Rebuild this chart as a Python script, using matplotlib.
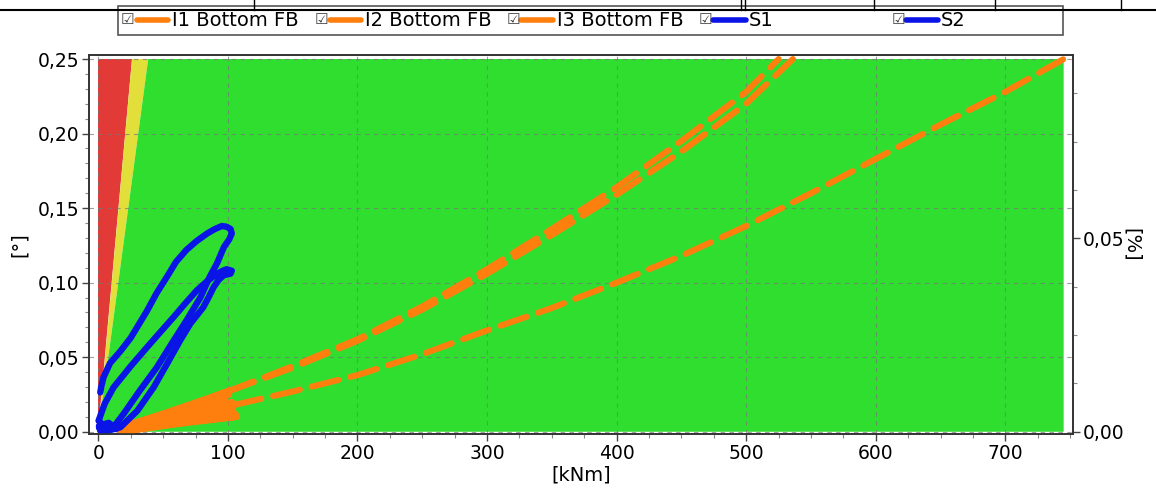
import matplotlib
matplotlib.use("Agg")
import matplotlib.pyplot as plt
from matplotlib.lines import Line2D
from matplotlib.patches import Rectangle
from matplotlib.ticker import MultipleLocator, FuncFormatter

# ---------------- data ----------------
# zone boundaries (kNm at top of chart, 0.25 deg)
zone_top = 0.25
zone_xmax = 745
red_edge_x = 26
yellow_edge_x = 38.5

# orange series: cyclic start part (solid band) and main dashed part
i1_cyc_x = [15, 100, 18, 104, 16, 101, 20, 105, 25, 98]
i1_cyc_y = [0.002, 0.027, 0.001, 0.013, 0.003, 0.025, 0.000, 0.011, 0.001, 0.021]
i1_x = [100, 150, 200, 250, 300, 350, 400, 450, 500, 525]
i1_y = [0.027, 0.044, 0.062, 0.084, 0.109, 0.136, 0.164, 0.195, 0.228, 0.25]

i2_cyc_x = [17, 102, 20, 106, 18, 103]
i2_cyc_y = [0.001, 0.028, 0.000, 0.012, 0.002, 0.020]
i2_x = [100, 150, 200, 250, 300, 350, 400, 450, 500, 536]
i2_y = [0.027, 0.043, 0.061, 0.082, 0.106, 0.132, 0.159, 0.188, 0.220, 0.25]

i3_cyc_x = [18, 105, 22, 107, 20, 104]
i3_cyc_y = [0.000, 0.019, 0.001, 0.010, 0.002, 0.016]
i3_x = [105, 150, 200, 250, 300, 350, 400, 450, 500, 550, 600, 650, 700, 745]
i3_y = [0.018, 0.027, 0.038, 0.052, 0.068, 0.083, 0.100, 0.118, 0.138, 0.160, 0.183, 0.206, 0.228, 0.25]

s1_x = [1.5, 2.5, 4, 9, 17, 25, 37.5, 45, 53, 60, 68, 76, 84, 90, 95.4, 99, 102, 103,
        101, 97, 91.6, 86, 78.7, 68, 58, 45, 32, 19.5, 11.6, 6, 1.5, 0.5, 8, 14, 3, 0.5]
s1_y = [0.0264, 0.031, 0.0365, 0.046, 0.054, 0.063, 0.081, 0.093, 0.104, 0.114, 0.122,
        0.128, 0.133, 0.136, 0.138, 0.1375, 0.136, 0.133, 0.129, 0.124, 0.113, 0.104,
        0.090, 0.0746, 0.061, 0.043, 0.0276, 0.012, 0.003, 0.001, 0.0007,
        0.004, 0.006, 0.002, 0.001, 0.003]

s2_x = [0.2, 5, 11.8, 25, 37.6, 48, 58, 67, 76, 84, 91.6, 96, 99, 103, 102, 96.8, 93,
        89, 85, 81, 76, 71, 63, 53, 42.7, 30, 17, 6.7, 0.5]
s2_y = [0.0074, 0.019, 0.0298, 0.044, 0.0567, 0.067, 0.0768, 0.086, 0.0948, 0.101, 0.106,
        0.108, 0.109, 0.108, 0.106, 0.105, 0.102, 0.097, 0.090, 0.0835, 0.078, 0.0725,
        0.061, 0.0455, 0.0298, 0.014, 0.003, 0.0007, 0.0074]

series_names = ["I1 Bottom FB", "I2 Bottom FB", "I3 Bottom FB", "S1", "S2"]

x_ticks = [0, 100, 200, 300, 400, 500, 600, 700]
y_ticks = [0.00, 0.05, 0.10, 0.15, 0.20, 0.25]
y2_ticks = [0.00, 0.05]

# ---------------- style ----------------
RED = "#e23a36"
YELLOW = "#e2df3a"
GREEN = "#30de30"
ORANGE = "#ff7f0e"
BLUE = "#0a14e6"
W, H = 1156, 493
DPI = 100

plt.rcParams["font.family"] = ["DejaVu Sans"]
fig = plt.figure(figsize=(W / DPI, H / DPI), dpi=DPI)

def px(x, y):
    return x / W, 1 - y / H

l, r, t, b = 89, 1073, 55, 434
ax = fig.add_axes([l / W, 1 - b / H, (r - l) / W, (b - t) / H])

ax.fill([0, 0, red_edge_x], [0, zone_top, zone_top], color=RED, lw=0, zorder=1)
ax.fill([0, red_edge_x, yellow_edge_x], [0, zone_top, zone_top], color=YELLOW, lw=0, zorder=1)
ax.fill([0, yellow_edge_x, zone_xmax, zone_xmax], [0, zone_top, zone_top, 0],
        color=GREEN, lw=0, zorder=1)

lw_or = 4.4
dash = (4.5, 2.0)
for cx, cy, mx, my in [(i1_cyc_x, i1_cyc_y, i1_x, i1_y),
                       (i2_cyc_x, i2_cyc_y, i2_x, i2_y),
                       (i3_cyc_x, i3_cyc_y, i3_x, i3_y)]:
    ax.plot(cx, cy, color=ORANGE, lw=lw_or, solid_capstyle="round", zorder=3)
    ax.plot(mx, my, color=ORANGE, lw=lw_or, dashes=dash, dash_capstyle="round", zorder=3)

ax.plot(s1_x, s1_y, color=BLUE, lw=4.6, solid_joinstyle="round", solid_capstyle="round", zorder=4)
ax.plot(s2_x, s2_y, color=BLUE, lw=4.6, solid_joinstyle="round", solid_capstyle="round", zorder=4)

ax.set_xlim(-7.2, 752.2)
ax.set_ylim(-0.0015, 0.2527)
ax.set_xticks(x_ticks)
ax.set_yticks(y_ticks)
ax.xaxis.set_minor_locator(MultipleLocator(25))
ax.yaxis.set_minor_locator(MultipleLocator(0.01))
ax.yaxis.set_major_formatter(FuncFormatter(lambda v, p: f"{v:.2f}".replace(".", ",")))
ax.grid(True, which="major", color="#777777", ls=(0, (4, 4)), lw=0.8, alpha=0.7, zorder=2)
ax.tick_params(which="major", length=5, width=1, color="#444444", labelsize=13.5, pad=2)
ax.tick_params(which="minor", length=3, width=0.8, color="#888888")
for s in ax.spines.values():
    s.set_color("#333333")
    s.set_linewidth(1.2)
ax.set_xlabel("[kNm]", fontsize=14, labelpad=2)
ax.set_ylabel("[°]", fontsize=14, labelpad=6)

ax2 = ax.twinx()
ratio = 0.3855
ax2.set_ylim(-0.0015 * ratio, 0.2527 * ratio)
ax2.set_yticks(y2_ticks)
ax2.yaxis.set_minor_locator(MultipleLocator(0.0125))
ax2.yaxis.set_major_formatter(FuncFormatter(lambda v, p: f"{v:.2f}".replace(".", ",")))
ax2.tick_params(which="major", length=5, width=1, color="#444444", labelsize=13.5, pad=2)
ax2.tick_params(which="minor", length=3, width=0.8, color="#888888")
ax2.set_ylabel("[%]", fontsize=14, rotation=270, labelpad=12)
for s in ax2.spines.values():
    s.set_color("#333333")
    s.set_linewidth(1.2)

# ---------------- legend box (custom, like the app) ----------------
lx0, ly0, lx1, ly1 = 118, 6, 1063, 35
fig.patches.append(Rectangle(px(lx0, ly1), (lx1 - lx0) / W, (ly1 - ly0) / H,
                             transform=fig.transFigure, fill=False,
                             edgecolor="#555555", lw=1.2))
items = [(121, 137, 168, 172, ORANGE), (315, 330, 361, 365, ORANGE),
         (507, 521, 553, 557, ORANGE), (699, 713, 746, 749, BLUE),
         (892, 906, 938, 941, BLUE)]
yc = 20
for name, (cbx, la, lb, tx, col) in zip(series_names, items):
    fig.text(*px(cbx, yc - 1), "\u2611", fontsize=11, color="#444444", va="center", ha="left")
    fig.add_artist(Line2D([la / W, lb / W], [1 - yc / H, 1 - yc / H], color=col, lw=4,
                          solid_capstyle="round", transform=fig.transFigure))
    fig.text(*px(tx, yc + 1), name, fontsize=14, va="center", ha="left")

# top table remnants
fig.add_artist(Line2D([0, 1], [1 - 10 / H, 1 - 10 / H], color="black", lw=1.5,
                      transform=fig.transFigure))
for vx in [254, 741, 745, 874, 995, 1121]:
    fig.add_artist(Line2D([vx / W, vx / W], [1 - 10 / H, 1], color="black", lw=1,
                          transform=fig.transFigure))

fig.savefig("out.png", dpi=DPI)
